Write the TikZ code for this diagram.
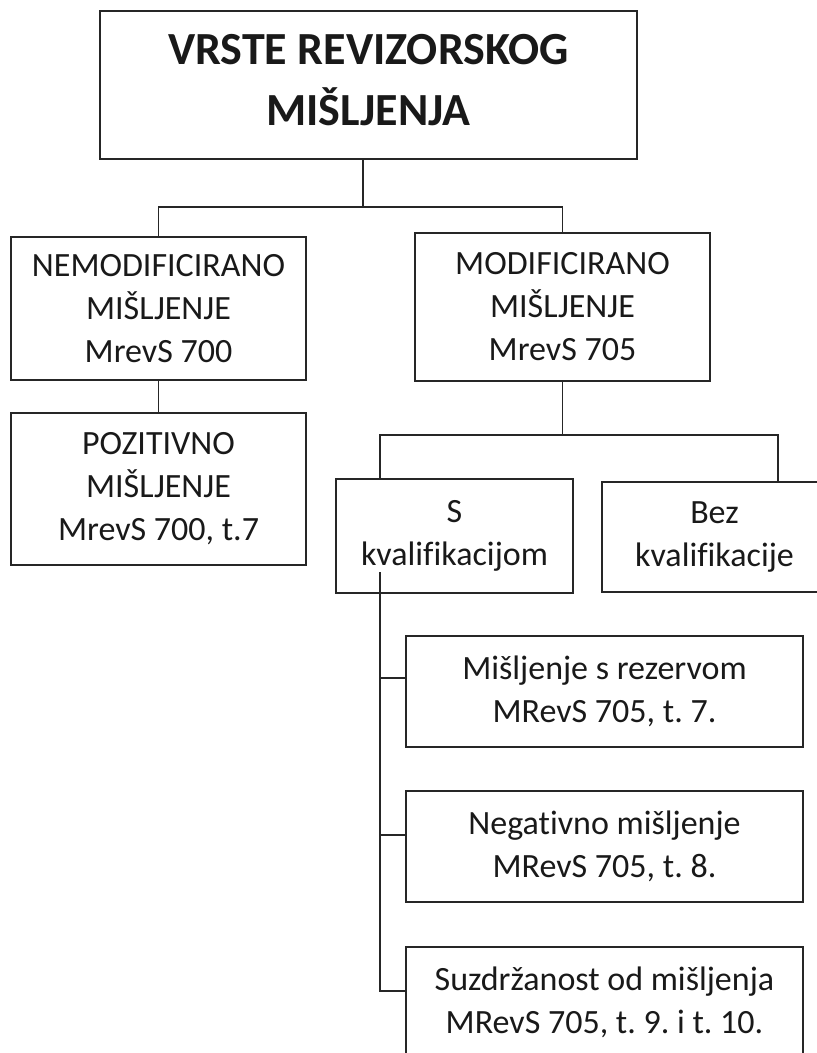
\documentclass[tikz,border=0pt]{standalone}
\usepackage{fontspec}
\setmainfont[Ligatures=NoCommon]{Carlito}
\frenchspacing

\begin{document}
\begin{tikzpicture}[x=1pt,y=-1pt,
	box/.style={draw=black!85, line width=1.6pt, rectangle, inner sep=0pt, align=center,
		font=\fontsize{34}{43}\selectfont, text=black!90},
	wire/.style={draw=black!85, line width=1.6pt}]
	\useasboundingbox (0,0) rectangle (817,1053);

	\path (368.5,85) node[box, minimum width=537pt, minimum height=148pt,
		font=\fontsize{46}{60.5}\selectfont\bfseries] (vrste) {VRSTE REVIZORSKOG\\MIŠLJENJA\rule[-10pt]{0pt}{0pt}};

	\path (158.5,308.5) node[box, minimum width=295pt, minimum height=143pt] (nemod) {NEMODIFICIRANO\\MIŠLJENJE\\MrevS 700};
	\path (562.5,307) node[box, minimum width=295pt, minimum height=148pt] (modif) {MODIFICIRANO\\MIŠLJENJE\\MrevS 705};
	\path (158.5,489) node[box, minimum width=295pt, minimum height=152pt] (pozit) {POZITIVNO\\MIŠLJENJE\\MrevS 700, t.7};

	\path (454.5,536) node[box, minimum width=237pt, minimum height=114pt] (skval) {S\\kvalifikacijom};
	\path (714.5,537) node[box, minimum width=225pt, minimum height=110pt] (bezkval) {Bez\\kvalifikacije};

	\path (604.5,691.5) node[box, minimum width=397pt, minimum height=111pt] (rezerva) {Mišljenje s rezervom\\MRevS 705, t. 7.};
	\path (604.5,846.5) node[box, minimum width=397pt, minimum height=111pt] (negat) {Negativno mišljenje\\MRevS 705, t. 8.};
	\path (604.5,1002.5) node[box, minimum width=397pt, minimum height=111pt] (suzdr) {Suzdržanost od mišljenja\\MRevS 705, t. 9. i t. 10.};

	\coordinate (tbus) at (363,207);
	\draw[wire] (vrste.south -| tbus) -- (tbus);
	\draw[wire] (nemod.north) |- (tbus) -| (modif.north);
	\draw[wire] (nemod.south) -- (pozit.north);

	\coordinate (mbusl) at (380,435);
	\coordinate (mbusr) at (778,435);
	\draw[wire] (modif.south) -- (modif.south |- mbusl);
	\draw[wire] (mbusl |- skval.north) -- (mbusl) -- (mbusr) -- (mbusr |- bezkval.north);

	\coordinate (trunk) at (380,572);
	\draw[wire] (trunk) |- ([yshift=-43pt]rezerva.north west);
	\draw[wire] (trunk) |- ([yshift=-45pt]negat.north west);
	\draw[wire] (trunk) |- ([yshift=-45pt]suzdr.north west);
\end{tikzpicture}
\end{document}
